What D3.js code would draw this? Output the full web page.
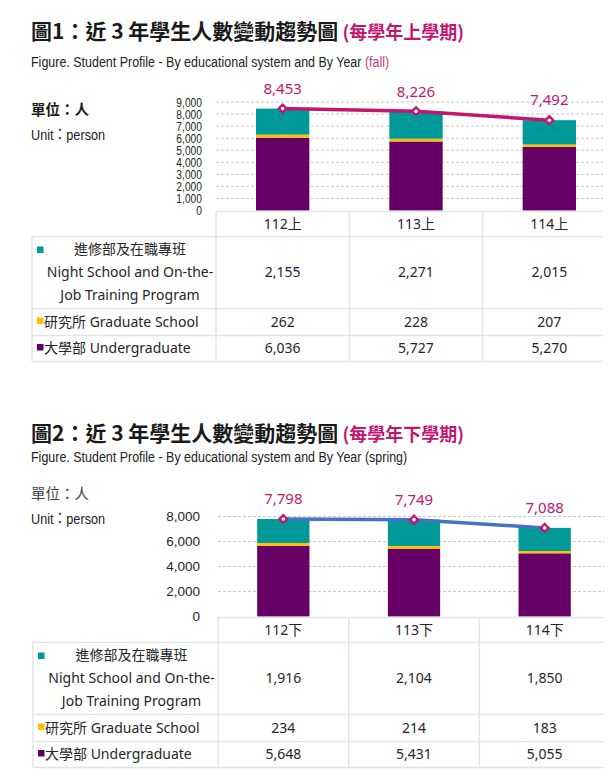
<!DOCTYPE html>
<html>
<head>
<meta charset="utf-8">
<script src="https://cdn.jsdelivr.net/npm/d3@7"></script>
<style>
  body { margin: 0; background: #fff; }
  svg { display: block; }
</style>
</head>
<body>
<div id="chart"></div>
<script>
// fall semester
const cats1 = ["112上", "113上", "114上"];
const night1 = [2155, 2271, 2015];
const grad1 = [262, 228, 207];
const under1 = [6036, 5727, 5270];
const total1 = [8453, 8226, 7492];
const ticks1 = [0, 1000, 2000, 3000, 4000, 5000, 6000, 7000, 8000, 9000];

// spring semester
const cats2 = ["112下", "113下", "114下"];
const night2 = [1916, 2104, 1850];
const grad2 = [234, 214, 183];
const under2 = [5648, 5431, 5055];
const total2 = [7798, 7749, 7088];
const ticks2 = [0, 2000, 4000, 6000, 8000];

const rowLabels = {
  night: ["進修部及在職專班", "Night School and On-the-", "Job Training Program"],
  grad: ["研究所 Graduate School"],
  under: ["大學部 Undergraduate"]
};

const colors = { under: "#660066", grad: "#ffc000", night: "#009999" };
const magenta = "#c2166f";
const arial = "'Liberation Sans', Arial, sans-serif";
const cjk = "'Noto Sans', 'Noto Sans CJK TC', sans-serif";
const narrowK = 0.82; // Liberation Sans squeezed to look like Arial Narrow
const fmt = d3.format(",");

const svg = d3.select("#chart")
  .append("svg")
  .attr("width", 616)
  .attr("height", 781);

function drawChart(o) {
  const g = svg.append("g");

  // titles
  const title = g.append("text")
    .attr("x", 31).attr("y", o.titleY)
    .style("font-family", "'Noto Sans CJK TC', sans-serif")
    .style("font-weight", "bold")
    .style("font-size", "21px")
    .attr("fill", "#1a1a1a");
  title.append("tspan").text(o.title);
  title.append("tspan")
    .attr("fill", magenta)
    .style("font-size", "18px")
    .text(" " + o.titleSub);

  const sub = g.append("text")
    .attr("transform", `translate(31,${o.subY}) scale(0.86,1)`)
    .style("font-family", arial)
    .style("font-size", "14.5px")
    .attr("fill", "#222");
  sub.append("tspan").text("Figure. Student Profile - By educational system and By Year ");
  sub.append("tspan").attr("fill", o.subColor).text(o.subTag);

  g.append("text")
    .attr("x", 31).attr("y", o.unitY)
    .style("font-family", "'Noto Sans CJK TC', sans-serif")
    .style("font-weight", o.unitBold ? "bold" : "normal")
    .style("font-size", "14.5px")
    .attr("fill", o.unitBold ? "#1a1a1a" : "#444")
    .text("單位：人");

  const unitEn = g.append("text")
    .attr("transform", `translate(31,${o.unitY + 25}) scale(${narrowK},1)`)
    .style("font-size", "15.5px")
    .attr("fill", "#222");
  unitEn.append("tspan").style("font-family", arial).text("Unit");
  unitEn.append("tspan").style("font-family", "'Noto Sans CJK TC', sans-serif").text("：");
  unitEn.append("tspan").style("font-family", arial).text("person");

  // scales
  const x = d3.scaleBand()
    .domain(o.cats)
    .range([o.left, o.right])
    .paddingInner(0.6)
    .paddingOuter(0.3);
  const step = x.step();
  const bw = x.bandwidth();

  const y = d3.scaleLinear()
    .domain([0, d3.max(o.ticks)])
    .range([o.y0, o.yTop]);

  // gridlines
  g.append("g")
    .selectAll("line")
    .data(o.ticks.filter(t => t > 0))
    .join("line")
    .attr("x1", o.left).attr("x2", o.tableRight)
    .attr("y1", d => y(d)).attr("y2", d => y(d))
    .attr("stroke", "#c8c8c8")
    .attr("stroke-dasharray", "3,2");

  // y axis
  const yAxis = g.append("g")
    .attr("transform", `translate(${o.left},0)`)
    .call(d3.axisLeft(y).tickValues(o.ticks).tickFormat(fmt).tickSize(0).tickPadding(o.tickPad));
  yAxis.select(".domain").remove();
  yAxis.selectAll("text")
    .style("font-family", arial)
    .style("font-size", o.tickSize)
    .attr("fill", "#262626");
  if (o.tickNarrow) {
    yAxis.selectAll("text")
      .attr("x", -o.tickPad / narrowK)
      .attr("transform", `scale(${narrowK},1)`);
  }

  // stacked bars
  const rows = o.cats.map((c, i) => ({ cat: c, under: o.under[i], grad: o.grad[i], night: o.night[i] }));
  const stack = d3.stack().keys(["under", "grad", "night"])(rows);

  g.append("g")
    .selectAll("g")
    .data(stack)
    .join("g")
    .attr("fill", d => colors[d.key])
    .selectAll("rect")
    .data(d => d)
    .join("rect")
    .attr("x", d => x(d.data.cat))
    .attr("width", bw)
    .attr("y", d => y(d[1]))
    .attr("height", d => y(d[0]) - y(d[1]));

  // total line
  const pts = o.cats.map((c, i) => ({ cat: c, v: o.total[i] }));
  const lx = d => x(d.cat) + bw / 2;

  g.append("path")
    .datum(pts)
    .attr("fill", "none")
    .attr("stroke", o.lineColor)
    .attr("stroke-width", 3.5)
    .attr("d", d3.line().x(lx).y(d => y(d.v)));

  const marks = g.append("g")
    .selectAll("g")
    .data(pts)
    .join("g")
    .attr("transform", d => `translate(${lx(d)},${y(d.v)})`);
  marks.append("path")
    .attr("d", d3.symbol(d3.symbolSquare, 62)())
    .attr("transform", "rotate(45)")
    .attr("fill", magenta);
  marks.append("circle")
    .attr("r", 1.8)
    .attr("fill", "#fff");

  g.append("g")
    .selectAll("text")
    .data(pts)
    .join("text")
    .attr("x", lx)
    .attr("y", d => y(d.v) - 20)
    .attr("dy", "0.35em")
    .attr("text-anchor", "middle")
    .style("font-family", cjk)
    .style("font-size", "15px")
    .attr("fill", magenta)
    .text(d => fmt(d.v));

  // data table
  const rowH = [25, 72, 27, 26];
  const tTop = o.y0 + 1;
  const rowTops = [tTop];
  rowH.forEach((h, i) => rowTops.push(rowTops[i] + h));
  const tBottom = rowTops[rowTops.length - 1];
  const lineCol = "#e0e5eb";
  const tbl = g.append("g").attr("stroke", lineCol).attr("stroke-width", 1.5);

  tbl.append("line")
    .attr("x1", o.left).attr("x2", o.tableRight)
    .attr("y1", tTop).attr("y2", tTop);
  tbl.selectAll(".hr")
    .data(rowTops.slice(1))
    .join("line")
    .attr("class", "hr")
    .attr("x1", o.tableLeft).attr("x2", o.tableRight)
    .attr("y1", d => d).attr("y2", d => d);
  tbl.selectAll(".vr")
    .data(d3.range(o.cats.length))
    .join("line")
    .attr("class", "vr")
    .attr("x1", i => o.left + i * step).attr("x2", i => o.left + i * step)
    .attr("y1", tTop).attr("y2", tBottom);
  tbl.append("line")
    .attr("x1", o.tableLeft).attr("x2", o.tableLeft)
    .attr("y1", rowTops[1]).attr("y2", tBottom);

  const cellText = sel => sel
    .style("font-family", cjk)
    .style("font-size", "14px")
    .attr("fill", "#262626");

  // header
  g.append("g")
    .selectAll("text")
    .data(o.cats)
    .join("text")
    .attr("x", d => x(d) + bw / 2)
    .attr("y", tTop + rowH[0] / 2)
    .attr("dy", "0.35em")
    .attr("text-anchor", "middle")
    .call(cellText)
    .text(d => d);

  const tableRows = [
    { key: "night", values: o.night },
    { key: "grad", values: o.grad },
    { key: "under", values: o.under }
  ];

  tableRows.forEach((r, ri) => {
    const top = rowTops[ri + 1];
    const h = rowH[ri + 1];
    const mid = top + h / 2;
    const lines = rowLabels[r.key];

    if (lines.length > 1) {
      g.append("rect")
        .attr("x", o.tableLeft + 5).attr("y", top + 10)
        .attr("width", 6.5).attr("height", 6.5)
        .attr("fill", colors[r.key]);
      lines.forEach((t, li) => {
        g.append("text")
          .attr("x", (o.tableLeft + 12 + o.left) / 2)
          .attr("y", mid + (li - 1) * 23)
          .attr("dy", "0.35em")
          .attr("text-anchor", "middle")
          .call(cellText)
          .text(t);
      });
    } else {
      g.append("rect")
        .attr("x", o.tableLeft + 5).attr("y", mid - 4.5)
        .attr("width", 6.5).attr("height", 6.5)
        .attr("fill", colors[r.key]);
      g.append("text")
        .attr("x", o.tableLeft + 12)
        .attr("y", mid)
        .attr("dy", "0.35em")
        .call(cellText)
        .text(lines[0]);
    }

    g.append("g")
      .selectAll("text")
      .data(r.values)
      .join("text")
      .attr("x", (d, i) => x(o.cats[i]) + bw / 2)
      .attr("y", mid)
      .attr("dy", "0.35em")
      .attr("text-anchor", "middle")
      .call(cellText)
      .text(d => fmt(d));
  });
}

drawChart({
  cats: cats1, night: night1, grad: grad1, under: under1, total: total1, ticks: ticks1,
  title: "圖1：近 3 年學生人數變動趨勢圖", titleSub: "(每學年上學期)", titleY: 39,
  subY: 67, subTag: "(fall)", subColor: "#b8407f",
  unitY: 115, unitBold: true,
  left: 216, right: 616, tableLeft: 32, tableRight: 603,
  y0: 210.5, yTop: 102,
  tickSize: "12.5px", tickPad: 14, tickNarrow: true,
  lineColor: magenta
});

drawChart({
  cats: cats2, night: night2, grad: grad2, under: under2, total: total2, ticks: ticks2,
  title: "圖2：近 3 年學生人數變動趨勢圖", titleSub: "(每學年下學期)", titleY: 441,
  subY: 462, subTag: "(spring)", subColor: "#222",
  unitY: 499, unitBold: false,
  left: 218, right: 610, tableLeft: 33, tableRight: 604,
  y0: 616.5, yTop: 516.5,
  tickSize: "13.5px", tickPad: 18, tickNarrow: false,
  lineColor: "#4472c4"
});
</script>
</body>
</html>
